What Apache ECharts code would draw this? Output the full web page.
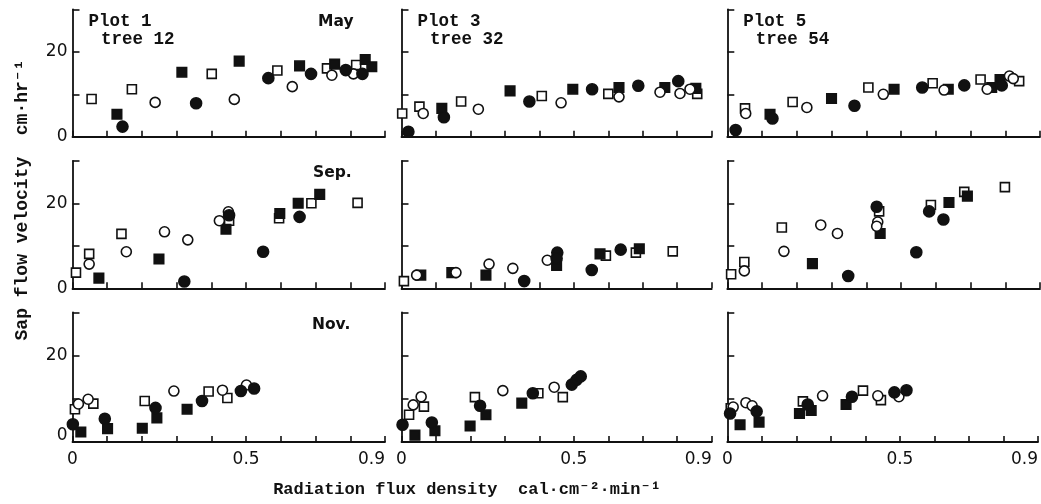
<!DOCTYPE html>
<html><head><meta charset="utf-8">
<script src="https://cdn.jsdelivr.net/npm/echarts@6/dist/echarts.min.js"></script>
<style>html,body{margin:0;padding:0;background:#fff}#c{width:1041px;height:504px}</style>
</head><body><div id="c"></div>
<script>
// ---- data: [radiation flux density, sap flow velocity] ----
// os = open square, fs = filled square, oc = open circle, fc = filled circle
const may_p1_os = [[0.055,8.9],[0.171,11.2],[0.401,14.8],[0.59,15.6],[0.733,16.1],[0.817,16.9]];
const may_p1_fs = [[0.128,5.3],[0.315,15.2],[0.48,17.8],[0.654,16.7],[0.755,17.1],[0.843,18.2],[0.862,16.5]];
const may_p1_oc = [[0.238,8.1],[0.466,8.8],[0.633,11.8],[0.747,14.5],[0.809,14.8]];
const may_p1_fc = [[0.144,2.4],[0.356,7.9],[0.564,13.8],[0.687,14.8],[0.787,15.7],[0.835,14.8]];

const may_p3_os = [[0.002,5.5],[0.052,7.1],[0.173,8.3],[0.407,9.6],[0.6,10.1],[0.858,10.1]];
const may_p3_fs = [[0.117,6.7],[0.315,10.8],[0.497,11.2],[0.631,11.6],[0.764,11.6],[0.854,11.4]];
const may_p3_oc = [[0.063,5.5],[0.223,6.5],[0.463,8.0],[0.631,9.4],[0.75,10.5],[0.808,10.2],[0.837,11.2]];
const may_p3_fc = [[0.02,1.2],[0.123,4.6],[0.371,8.3],[0.553,11.2],[0.687,12.0],[0.803,13.1]];

const may_p5_os = [[0.051,6.7],[0.188,8.2],[0.406,11.6],[0.591,12.6],[0.729,13.5],[0.84,13.1]];
const may_p5_fs = [[0.123,5.3],[0.3,9.0],[0.48,11.2],[0.636,11.2],[0.761,11.6],[0.785,13.5]];
const may_p5_oc = [[0.053,5.5],[0.229,6.9],[0.449,10.0],[0.624,11.0],[0.748,11.2],[0.812,14.3],[0.823,13.7]];
const may_p5_fc = [[0.024,1.6],[0.13,4.3],[0.366,7.3],[0.561,11.6],[0.682,12.1],[0.79,12.1]];

const sep_p1_os = [[0.01,3.7],[0.048,8.1],[0.141,12.8],[0.451,15.9],[0.595,16.5],[0.688,20.0],[0.821,20.1]];
const sep_p1_fs = [[0.076,2.4],[0.249,6.9],[0.442,13.9],[0.597,17.6],[0.65,20.0],[0.712,22.1]];
const sep_p1_oc = [[0.048,5.7],[0.155,8.6],[0.265,13.3],[0.332,11.4],[0.423,15.9],[0.449,18.0]];
const sep_p1_fc = [[0.322,1.6],[0.451,17.2],[0.549,8.6],[0.654,16.8]];

const sep_p3_os = [[0.007,1.7],[0.593,7.7],[0.68,8.4],[0.787,8.7]];
const sep_p3_fs = [[0.056,3.1],[0.146,3.7],[0.245,3.1],[0.45,5.4],[0.576,8.1],[0.69,9.3]];
const sep_p3_oc = [[0.044,3.1],[0.158,3.7],[0.254,5.7],[0.323,4.7],[0.423,6.6]];
const sep_p3_fc = [[0.356,1.7],[0.452,8.4],[0.45,7.0],[0.552,4.3],[0.636,9.1]];

const sep_p5_os = [[0.011,3.3],[0.049,6.2],[0.157,14.3],[0.437,18.1],[0.586,19.6],[0.682,22.7],[0.799,23.8]];
const sep_p5_fs = [[0.245,5.8],[0.44,12.9],[0.638,20.2],[0.691,21.7]];
const sep_p5_oc = [[0.049,4.1],[0.163,8.7],[0.269,14.9],[0.317,12.9],[0.433,15.6],[0.43,14.6]];
const sep_p5_fc = [[0.348,2.9],[0.43,19.2],[0.544,8.5],[0.581,18.1],[0.622,16.2]];

const nov_p1_os = [[0.007,7.6],[0.06,8.9],[0.208,9.5],[0.392,11.7],[0.446,10.2]];
const nov_p1_fs = [[0.024,2.3],[0.101,3.1],[0.201,3.2],[0.243,5.6],[0.33,7.6]];
const nov_p1_oc = [[0.017,8.8],[0.045,9.9],[0.292,11.8],[0.432,12.0],[0.501,13.2]];
const nov_p1_fc = [[0.001,4.1],[0.093,5.4],[0.239,7.9],[0.373,9.5],[0.485,11.8],[0.523,12.4]];

const nov_p3_os = [[0.022,6.3],[0.065,8.2],[0.213,10.4],[0.397,11.3],[0.468,10.4]];
const nov_p3_fs = [[0.039,1.6],[0.097,2.6],[0.199,3.7],[0.245,6.3],[0.349,9.0]];
const nov_p3_oc = [[0.034,8.6],[0.057,10.5],[0.294,11.9],[0.443,12.7]];
const nov_p3_fc = [[0.003,4.0],[0.088,4.5],[0.228,8.4],[0.381,11.3],[0.494,13.3],[0.508,14.4],[0.52,15.2]];

const nov_p5_os = [[0.01,7.8],[0.219,9.4],[0.393,11.9],[0.445,9.7]];
const nov_p5_fs = [[0.037,4.0],[0.092,4.6],[0.209,6.6],[0.243,7.3],[0.344,8.7]];
const nov_p5_oc = [[0.017,8.1],[0.054,9.1],[0.072,8.4],[0.276,10.7],[0.436,10.7],[0.497,10.5]];
const nov_p5_fc = [[0.008,6.6],[0.085,7.1],[0.233,8.7],[0.361,10.5],[0.484,11.5],[0.519,12.0]];

const xTickLabels = ['0', '0.5', '0.9'];
const yTickLabels = ['0', '20'];
const plotNames = ['Plot 1', 'Plot 3', 'Plot 5'];
const treeNames = ['tree 12', 'tree 32', 'tree 54'];
const months = ['May', 'Sep.', 'Nov.'];

const panels = [
  [may_p1_os, may_p1_fs, may_p1_oc, may_p1_fc],
  [may_p3_os, may_p3_fs, may_p3_oc, may_p3_fc],
  [may_p5_os, may_p5_fs, may_p5_oc, may_p5_fc],
  [sep_p1_os, sep_p1_fs, sep_p1_oc, sep_p1_fc],
  [sep_p3_os, sep_p3_fs, sep_p3_oc, sep_p3_fc],
  [sep_p5_os, sep_p5_fs, sep_p5_oc, sep_p5_fc],
  [nov_p1_os, nov_p1_fs, nov_p1_oc, nov_p1_fc],
  [nov_p3_os, nov_p3_fs, nov_p3_oc, nov_p3_fc],
  [nov_p5_os, nov_p5_fs, nov_p5_oc, nov_p5_fc]
];

// ---- layout ----
const cols = [{left: 72.5, width: 312.5}, {left: 401.5, width: 310.2}, {left: 727.3, width: 312.7}];
const rows = [{top: 9.3, height: 127.5}, {top: 160.8, height: 127.5}, {top: 312.5, height: 129.5}];
const MONO = "'Liberation Mono','DejaVu Sans Mono',monospace";
const SANS = "'DejaVu Sans',sans-serif";
const INK = '#111';

const styles = [
  {symbol: 'rect', size: 9, fill: '#fff'},
  {symbol: 'rect', size: 9.5, fill: INK},
  {symbol: 'circle', size: 10, fill: '#fff'},
  {symbol: 'circle', size: 11, fill: INK}
];

const grid = [], xAxis = [], yAxis = [], series = [], graphic = [];
for (let r = 0; r < 3; r++) {
  for (let c = 0; c < 3; c++) {
    const i = r * 3 + c;
    grid.push({left: cols[c].left, width: cols[c].width, top: rows[r].top, height: rows[r].height, containLabel: false});
    xAxis.push({
      type: 'value', gridIndex: i, min: 0, max: 0.9, interval: 0.1,
      axisLine: {onZero: false, lineStyle: {color: INK, width: 1.8}},
      axisTick: {inside: true, length: 6, lineStyle: {color: INK, width: 1.6}},
      splitLine: {show: false},
      axisLabel: {
        show: r === 2, margin: 9, color: INK, fontFamily: SANS, fontSize: 17,
        alignMaxLabel: 'right',
        formatter: v => {
          const s = String(Math.round(v * 10) / 10);
          return xTickLabels.indexOf(s) >= 0 ? s : '';
        }
      }
    });
    yAxis.push({
      type: 'value', gridIndex: i, min: 0, max: 30, interval: 10,
      axisLine: {onZero: false, lineStyle: {color: INK, width: 1.8}},
      axisTick: {inside: true, length: 7, lineStyle: {color: INK, width: 1.6}},
      splitLine: {show: false},
      axisLabel: {
        show: c === 0, margin: 5, color: INK, fontFamily: SANS, fontSize: 17,
        formatter: v => {
          const s = String(v);
          if (yTickLabels.indexOf(s) < 0) return '';
          return (r === 2 && s === '0') ? '{z|0}' : s;
        },
        rich: {z: {fontFamily: SANS, fontSize: 17, color: INK, padding: [0, 0, 13, 0]}}
      }
    });
    panels[i].forEach((data, k) => {
      const st = styles[k];
      series.push({
        type: 'scatter', xAxisIndex: i, yAxisIndex: i, data: data,
        symbol: st.symbol, symbolSize: st.size, silent: true, animation: false,
        itemStyle: {color: st.fill, borderColor: INK, borderWidth: 1.6, opacity: 1}
      });
    });
  }
}

// panel captions
const capY1 = [22, 22, 22], capY2 = [40.5, 40.5, 40.5];
for (let c = 0; c < 3; c++) {
  graphic.push({type: 'text', x: cols[c].left + 16, y: 21.5,
    style: {text: plotNames[c], font: 'bold 17.5px ' + MONO, fill: INK, verticalAlign: 'middle', align: 'left'}});
  graphic.push({type: 'text', x: cols[c].left + 28.5, y: 40,
    style: {text: treeNames[c], font: 'bold 17.5px ' + MONO, fill: INK, verticalAlign: 'middle', align: 'left'}});
}
const monthPos = [[318, 21.5], [313, 172.5], [312, 325]];
months.forEach((m, r) => {
  graphic.push({type: 'text', x: monthPos[r][0], y: monthPos[r][1],
    style: {text: m, font: 'bold 15.5px ' + SANS, fill: INK, verticalAlign: 'middle', align: 'left'}});
});
// axis titles
graphic.push({type: 'text', x: 22, y: 200, rotation: Math.PI / 2,
  style: {text: 'Sap flow velocity  cm\u00b7hr\u207b\u00b9', font: 'bold 18px ' + MONO, fill: INK, align: 'center', verticalAlign: 'middle'}});
graphic.push({type: 'text', x: 467, y: 490,
  style: {text: 'Radiation flux density  cal\u00b7cm\u207b\u00b2\u00b7min\u207b\u00b9', font: 'bold 17px ' + MONO, fill: INK, align: 'center', verticalAlign: 'middle'}});

const chart = echarts.init(document.getElementById('c'), null, {renderer: 'canvas'});
chart.setOption({animation: false, backgroundColor: '#fff', grid, xAxis, yAxis, series, graphic});
</script></body></html>
